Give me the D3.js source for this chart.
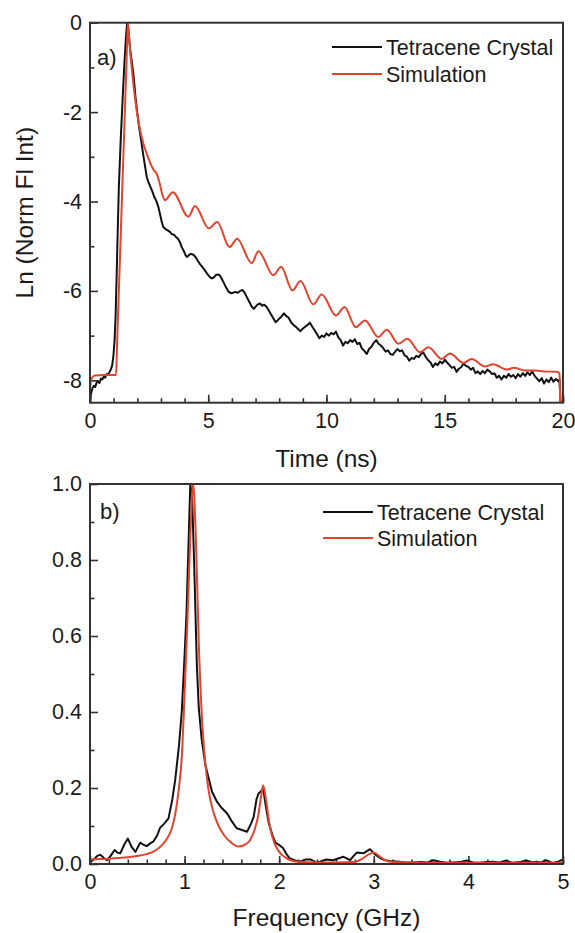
<!DOCTYPE html>
<html>
<head>
<meta charset="utf-8">
<script src="https://cdn.jsdelivr.net/npm/d3@7"></script>
<style>
body { margin: 0; background: #fff; }
svg { font-family: "Liberation Sans", Arial, sans-serif; }
.frame { fill: none; stroke: #333; stroke-width: 2; }
.axis path { display: none; }
.axis line { stroke: #333; stroke-width: 1.6; }
.axis text { font-size: 21.5px; fill: #1a1a1a; }
.crystal { fill: none; stroke: #111; stroke-width: 2; stroke-linejoin: round; }
.sim { fill: none; stroke: #e4432d; stroke-width: 2; }
.title { font-size: 24.5px; fill: #1a1a1a; }
.legend { font-size: 21.5px; fill: #1a1a1a; }
.tag { font-size: 22px; fill: #1a1a1a; }
</style>
</head>
<body>
<svg width="575" height="933"></svg>
<script>
// a) time resolved fluorescence, [time ns, ln(norm fl int)]
const decayCrystal = [
  [0.00,-8.49],[0.04,-8.30],[0.10,-8.18],[0.16,-8.12],[0.22,-8.15],[0.28,-8.05],[0.34,-8.02],[0.40,-8.06],
  [0.46,-7.96],[0.52,-7.98],[0.58,-7.92],[0.64,-7.94],[0.70,-7.86],[0.76,-7.87],[0.82,-7.82],[0.88,-7.76],
  [0.94,-7.66],[0.99,-7.45],[1.04,-7.10],[1.08,-6.60],[1.12,-5.80],[1.17,-4.70],[1.22,-3.67],[1.30,-2.60],
  [1.38,-1.70],[1.46,-0.85],[1.53,-0.25],[1.57,0.00],[1.62,-0.15],[1.70,-0.62],[1.78,-0.92],[1.85,-1.22],
  [1.93,-1.70],[2.00,-2.02],[2.08,-2.35],[2.16,-2.62],[2.25,-2.95],[2.33,-3.22],[2.40,-3.45],[2.48,-3.58],
  [2.56,-3.68],[2.64,-3.78],[2.72,-3.90],[2.80,-3.98],[2.89,-4.12],[2.96,-4.28],[3.03,-4.45],[3.10,-4.57],
  [3.18,-4.61],[3.27,-4.64],[3.38,-4.68],[3.46,-4.73],[3.55,-4.74],[3.65,-4.80],[3.73,-4.84],[3.81,-4.92],
  [3.88,-5.02],[3.96,-5.10],[4.04,-5.20],[4.10,-5.24],[4.18,-5.20],[4.26,-5.17],[4.37,-5.19],[4.46,-5.24],
  [4.55,-5.32],[4.65,-5.40],[4.75,-5.46],[4.86,-5.54],[4.96,-5.62],[5.07,-5.69],[5.15,-5.72],[5.23,-5.70],
  [5.31,-5.65],[5.40,-5.63],[5.50,-5.66],[5.58,-5.74],[5.66,-5.82],[5.75,-5.92],[5.85,-6.01],[5.95,-6.05],
  [6.05,-6.04],[6.15,-6.02],[6.25,-6.04],[6.35,-6.00],[6.45,-5.98],[6.55,-6.05],[6.65,-6.16],[6.75,-6.26],
  [6.85,-6.36],[6.93,-6.40],[7.02,-6.34],[7.10,-6.30],[7.19,-6.28],[7.28,-6.33],[7.37,-6.31],[7.47,-6.36],
  [7.56,-6.44],[7.65,-6.52],[7.75,-6.61],[7.85,-6.70],[7.93,-6.66],[8.00,-6.62],[8.10,-6.57],[8.20,-6.50],
  [8.30,-6.56],[8.40,-6.60],[8.50,-6.70],[8.60,-6.76],[8.70,-6.80],[8.80,-6.85],[8.90,-6.90],[9.00,-6.84],
  [9.10,-6.80],[9.20,-6.76],[9.30,-6.71],[9.40,-6.80],[9.50,-6.88],[9.60,-6.97],[9.70,-7.06],[9.80,-7.00],
  [9.90,-7.03],[10.0,-6.95],[10.1,-7.00],[10.2,-6.94],[10.3,-6.97],[10.4,-6.91],[10.5,-7.04],[10.6,-7.10],
  [10.7,-7.22],[10.8,-7.14],[10.9,-7.17],[11.0,-7.10],[11.1,-7.14],[11.2,-7.08],[11.3,-7.19],[11.4,-7.16],
  [11.5,-7.29],[11.6,-7.34],[11.7,-7.41],[11.8,-7.30],[11.9,-7.25],[12.0,-7.16],[12.1,-7.10],[12.2,-7.18],
  [12.3,-7.22],[12.4,-7.28],[12.5,-7.36],[12.6,-7.33],[12.7,-7.41],[12.8,-7.43],[12.9,-7.36],[13.0,-7.30],
  [13.1,-7.35],[13.2,-7.33],[13.3,-7.44],[13.4,-7.47],[13.5,-7.56],[13.6,-7.50],[13.7,-7.52],[13.8,-7.45],
  [13.9,-7.48],[14.0,-7.41],[14.1,-7.38],[14.2,-7.48],[14.3,-7.55],[14.4,-7.60],[14.5,-7.70],[14.6,-7.62],
  [14.7,-7.66],[14.8,-7.58],[14.9,-7.62],[15.0,-7.54],[15.1,-7.60],[15.2,-7.66],[15.3,-7.72],[15.4,-7.70],
  [15.5,-7.81],[15.6,-7.74],[15.7,-7.70],[15.8,-7.62],[15.9,-7.68],[16.0,-7.70],[16.1,-7.76],[16.2,-7.72],
  [16.3,-7.84],[16.4,-7.80],[16.5,-7.86],[16.6,-7.79],[16.7,-7.84],[16.8,-7.76],[16.9,-7.80],[17.0,-7.86],
  [17.1,-7.84],[17.2,-7.94],[17.3,-7.90],[17.4,-7.98],[17.5,-7.90],[17.6,-7.94],[17.7,-7.86],[17.8,-7.92],
  [17.9,-7.88],[18.0,-7.95],[18.1,-7.86],[18.2,-7.92],[18.3,-7.84],[18.4,-7.90],[18.5,-7.82],[18.6,-7.88],
  [18.7,-7.80],[18.8,-7.90],[18.9,-7.96],[19.0,-8.02],[19.1,-7.95],[19.2,-8.07],[19.3,-7.98],[19.4,-8.04],
  [19.5,-7.94],[19.6,-8.03],[19.7,-7.97],[19.8,-8.02],[19.85,-7.98],[19.9,-8.50]
]

const decaySim = [
  [0.00,-8.22],[0.04,-8.02],[0.10,-7.93],[0.20,-7.89],[0.60,-7.88],[1.06,-7.88],[1.10,-7.88],[1.15,-7.10],
  [1.35,-3.95],[1.55,-0.78],[1.60,0.00],[1.65,-0.30],[1.72,-0.75],[1.85,-1.45],[2.00,-2.05],[2.15,-2.48],
  [2.30,-2.78],[2.45,-3.00],[2.58,-3.18],[2.70,-3.30],[2.82,-3.38],[2.95,-3.60],[3.06,-3.85],[3.17,-3.97],
  [3.50,-3.79],[4.16,-4.34],[4.44,-4.10],[5.02,-4.60],[5.38,-4.46],[5.90,-5.02],[6.22,-4.83],[6.84,-5.38],
  [7.12,-5.11],[7.75,-5.65],[8.08,-5.46],[8.56,-5.99],[8.90,-5.78],[9.44,-6.30],[9.80,-6.08],[10.40,-6.55],
  [10.76,-6.36],[11.24,-6.81],[11.63,-6.66],[12.19,-7.03],[12.55,-6.87],[13.04,-7.18],[13.42,-7.07],
  [13.95,-7.37],[14.31,-7.26],[14.87,-7.52],[15.22,-7.40],[15.79,-7.61],[16.14,-7.52],[16.70,-7.69],
  [17.05,-7.64],[17.62,-7.76],[17.92,-7.72],[18.40,-7.78],[18.80,-7.78],[19.20,-7.80],[19.73,-7.81],
  [19.85,-7.84],[19.88,-8.50]
]

// b) fourier transform, [frequency GHz, amplitude]
const specCrystal = [
  [0.00,0.005],[0.04,0.012],[0.08,0.022],[0.11,0.024],[0.15,0.015],[0.18,0.010],[0.22,0.022],[0.26,0.037],
  [0.29,0.030],[0.32,0.028],[0.36,0.050],[0.40,0.067],[0.44,0.045],[0.48,0.032],[0.53,0.056],[0.57,0.050],
  [0.60,0.047],[0.64,0.055],[0.67,0.059],[0.71,0.075],[0.74,0.095],[0.78,0.105],[0.83,0.120],[0.87,0.170],
  [0.90,0.22],[0.94,0.31],[0.97,0.40],[1.00,0.55],[1.02,0.66],[1.04,0.83],[1.06,1.00],[1.08,0.96],
  [1.10,0.80],[1.13,0.52],[1.15,0.41],[1.18,0.33],[1.22,0.26],[1.25,0.23],[1.29,0.19],[1.34,0.165],
  [1.39,0.148],[1.45,0.133],[1.50,0.112],[1.55,0.094],[1.60,0.090],[1.66,0.085],[1.70,0.105],[1.73,0.124],
  [1.76,0.170],[1.78,0.185],[1.81,0.192],[1.83,0.200],[1.86,0.150],[1.89,0.107],[1.93,0.075],[1.96,0.056],
  [2.00,0.050],[2.04,0.042],[2.08,0.025],[2.11,0.015],[2.16,0.010],[2.22,0.006],[2.28,0.012],[2.33,0.012],
  [2.40,0.003],[2.45,0.008],[2.50,0.012],[2.57,0.010],[2.63,0.015],[2.68,0.019],[2.75,0.010],[2.79,0.022],
  [2.82,0.030],[2.89,0.028],[2.96,0.039],[3.01,0.026],[3.07,0.015],[3.12,0.010],[3.17,0.008],[3.27,0.006],
  [3.34,0.004],[3.41,0.004],[3.50,0.005],[3.57,0.004],[3.63,0.010],[3.70,0.006],[3.77,0.003],[3.84,0.004],
  [3.91,0.005],[3.98,0.009],[4.05,0.004],[4.12,0.003],[4.19,0.005],[4.26,0.006],[4.33,0.004],[4.40,0.009],
  [4.47,0.003],[4.54,0.005],[4.61,0.009],[4.68,0.004],[4.72,0.006],[4.77,0.004],[4.82,0.010],[4.89,0.003],
  [4.95,0.006],[5.00,0.012]
]

const specSim = [
  [0.00,0.012],[0.10,0.013],[0.20,0.014],[0.30,0.016],[0.40,0.018],[0.50,0.021],[0.60,0.026],[0.68,0.034],
  [0.75,0.047],[0.81,0.065],[0.86,0.090],[0.90,0.130],[0.94,0.200],[0.97,0.280],[1.00,0.450],[1.03,0.640],
  [1.06,0.860],[1.09,1.000],[1.12,0.850],[1.15,0.580],[1.18,0.400],[1.21,0.290],[1.25,0.200],[1.30,0.140],
  [1.36,0.100],[1.42,0.075],[1.50,0.055],[1.57,0.046],[1.63,0.050],[1.69,0.062],[1.74,0.090],[1.78,0.130],
  [1.81,0.180],[1.83,0.207],[1.86,0.170],[1.90,0.100],[1.95,0.055],[2.00,0.032],[2.06,0.018],[2.12,0.010],
  [2.20,0.006],[2.40,0.004],[2.60,0.004],[2.80,0.006],[2.88,0.014],[2.95,0.026],[3.00,0.030],[3.06,0.020],
  [3.12,0.010],[3.20,0.005],[3.40,0.004],[3.80,0.003],[4.40,0.003],[5.00,0.003]
]

const seriesNames = ["Tetracene Crystal", "Simulation"]
const timeTicks = [0, 5, 10, 15, 20]
const lnTicks = [-8, -6, -4, -2, 0]
const freqTicks = [0, 1, 2, 3, 4, 5]
const ampTicks = [0, 0.2, 0.4, 0.6, 0.8, 1.0]

const svg = d3.select("svg")

const drawPanel = (opt) => {
  const g = svg.append("g")
  const x = opt.x, y = opt.y
  const [x0, x1] = x.range()
  const [yb, yt] = y.range()

  g.append("clipPath").attr("id", opt.id)
    .append("rect")
    .attr("x", x0).attr("y", yt)
    .attr("width", x1 - x0).attr("height", yb - yt)

  // minor ticks first, no labels
  g.append("g").attr("class", "axis")
    .attr("transform", `translate(0,${yb})`)
    .call(d3.axisBottom(x).tickValues(opt.xMinor).tickSize(-4.5).tickSizeOuter(0).tickFormat(""))
  g.append("g").attr("class", "axis")
    .attr("transform", `translate(${x0},0)`)
    .call(d3.axisLeft(y).tickValues(opt.yMinor).tickSize(-4.5).tickSizeOuter(0).tickFormat(""))

  g.append("g").attr("class", "axis")
    .attr("transform", `translate(0,${yb})`)
    .call(d3.axisBottom(x).tickValues(opt.xMajor).tickSize(-8).tickSizeOuter(0).tickPadding(10).tickFormat(opt.fmtX))
  g.append("g").attr("class", "axis")
    .attr("transform", `translate(${x0},0)`)
    .call(d3.axisLeft(y).tickValues(opt.yMajor).tickSize(-8).tickSizeOuter(0).tickPadding(8).tickFormat(opt.fmtY))

  const plot = g.append("g").attr("clip-path", `url(#${opt.id})`)

  plot.append("path")
    .datum(opt.crystal)
    .attr("class", "crystal")
    .attr("d", d3.line().x(d => x(d[0])).y(d => y(d[1])))

  plot.append("path")
    .datum(opt.sim)
    .attr("class", "sim")
    .attr("d", d3.line().x(d => x(d[0])).y(d => y(d[1])).curve(d3.curveMonotoneX))

  g.append("rect")
    .attr("class", "frame")
    .attr("x", x0).attr("y", yt)
    .attr("width", x1 - x0).attr("height", yb - yt)

  g.append("text")
    .attr("class", "tag")
    .attr("x", x0 + opt.tagDx).attr("y", yt + opt.tagDy)
    .text(opt.tag)

  const leg = g.selectAll("g.leg")
    .data(seriesNames)
    .enter()
    .append("g")
    .attr("class", "leg")
    .attr("transform", (d, i) => { return `translate(${opt.legX},${opt.legY + i * opt.legStep})` })

  leg.append("line")
    .attr("x1", 0).attr("x2", opt.legLen)
    .attr("y1", 0).attr("y2", 0)
    .attr("class", (d, i) => { return i == 0 ? "crystal" : "sim" })

  leg.append("text")
    .attr("class", "legend")
    .attr("x", opt.legLen + 4)
    .attr("y", 8)
    .text(d => d)

  g.append("text")
    .attr("class", "title")
    .attr("x", (x0 + x1) / 2)
    .attr("y", opt.titleY)
    .attr("text-anchor", "middle")
    .text(opt.xTitle)

  return g
}

const topPanel = drawPanel({
  id: "clipA",
  x: d3.scaleLinear().domain([0, 20]).range([90, 563]),
  y: d3.scaleLinear().domain([-8.5, 0]).range([402.7, 22.7]),
  xMajor: timeTicks, xMinor: d3.range(0, 21, 1),
  yMajor: lnTicks, yMinor: [-7, -5, -3, -1],
  fmtX: d => String(d), fmtY: d => String(d),
  crystal: decayCrystal, sim: decaySim,
  tag: "a)", tagDx: 7, tagDy: 42,
  legX: 332, legY: 47, legStep: 27, legLen: 50,
  xTitle: "Time (ns)", titleY: 467
})

topPanel.append("text")
  .attr("class", "title")
  .attr("transform", "translate(33,212.7) rotate(-90)")
  .attr("text-anchor", "middle")
  .text("Ln (Norm Fl Int)")

drawPanel({
  id: "clipB",
  x: d3.scaleLinear().domain([0, 5]).range([90, 563]),
  y: d3.scaleLinear().domain([0, 1]).range([864, 484]),
  xMajor: freqTicks, xMinor: d3.range(0, 5.01, 0.2),
  yMajor: ampTicks, yMinor: [0.1, 0.3, 0.5, 0.7, 0.9],
  fmtX: d => String(d), fmtY: d3.format(".1f"),
  crystal: specCrystal, sim: specSim,
  tag: "b)", tagDx: 10, tagDy: 35,
  legX: 323, legY: 512, legStep: 26, legLen: 50,
  xTitle: "Frequency (GHz)", titleY: 926
})
</script>
</body>
</html>
